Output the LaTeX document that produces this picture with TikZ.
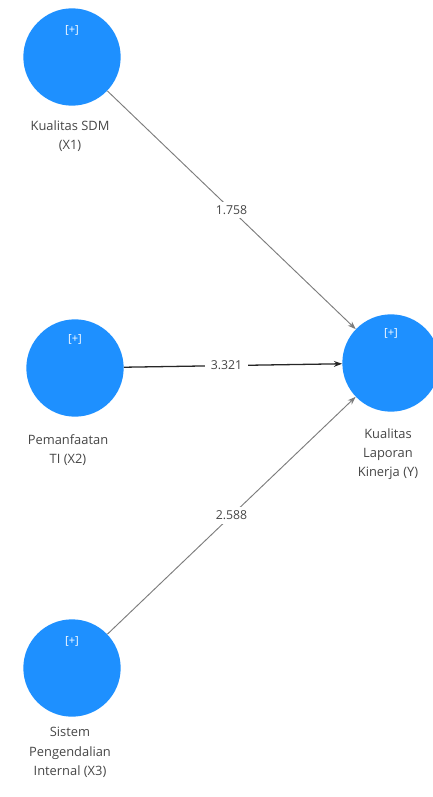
\documentclass[tikz,border=0pt]{standalone}
\usepackage{fontspec}
\setmainfont{Open Sans}
\usetikzlibrary{arrows.meta}
\definecolor{lvblue}{RGB}{30,144,255}
\definecolor{pathgray}{RGB}{125,125,125}
\definecolor{textgray}{RGB}{70,70,70}

\begin{document}
\begin{tikzpicture}[x=0.03cm,y=-0.03cm,
  latent/.style={circle,fill=lvblue,minimum size=2.92cm,inner sep=0pt},
  plustag/.style={text=white,font=\fontsize{9.5}{10}\selectfont,inner sep=0pt},
  lvname/.style={align=center,text=textgray,font=\fontsize{11}{16.5}\selectfont,inner sep=0pt,anchor=north},
  pathline/.style={-{Stealth[length=7pt,width=5pt]},draw=pathgray,line width=0.8pt},
  coef/.style={fill=white,text=textgray,font=\fontsize{10.5}{12}\selectfont,inner xsep=5pt,inner ysep=3pt}]

\useasboundingbox (0,0) rectangle (433,797);

% latent variables
\node[latent] (x1) at (72,57) {};
\node[latent] (x2) at (75,368) {};
\node[latent] (x3) at (72,668) {};
\node[latent] (y) at (391,363) {};

\node[plustag] (x1p) at (72,30) {[+]};
\node[plustag] (x2p) at (75,339) {[+]};
\node[plustag] (x3p) at (72,641) {[+]};
\node[plustag] (yp) at (391,333) {[+]};

\node[lvname] (x1n) at (70,120) {Kualitas SDM\\(X1)};
\node[lvname] (x2n) at (68,434) {Pemanfaatan\\TI (X2)};
\node[lvname] (x3n) at (70,727) {Sistem\\Pengendalian\\Internal (X3)};
\node[lvname] (yn) at (388,428) {Kualitas\\Laporan\\Kinerja (Y)};

% paths
\draw[pathline] (x1) -- (y) node[coef,midway] {1.758};
\draw[pathline,draw=black!85,line width=1.1pt] (x2) -- (y) node[coef,pos=0.47] {3.321};
\draw[pathline] (x3) -- (y) node[coef,midway] {2.588};

\end{tikzpicture}
\end{document}
